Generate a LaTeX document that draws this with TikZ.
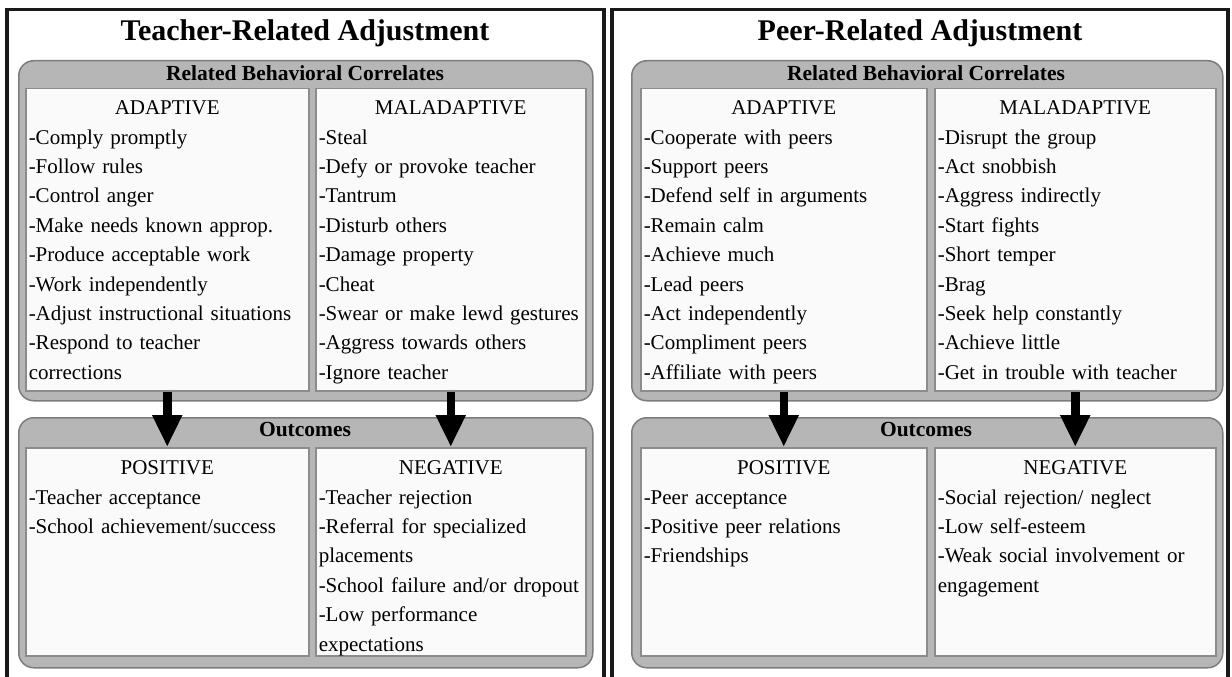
\documentclass[tikz,border=0pt]{standalone}
\usepackage{fontspec}
\setmainfont{Liberation Serif}
\usetikzlibrary{arrows.meta}

\definecolor{panelgray}{HTML}{B6B6B6}
\definecolor{panelline}{HTML}{7C7C7C}
\definecolor{boxline}{HTML}{8C8C8C}
\definecolor{boxfill}{HTML}{FAFAFA}

\newcommand{\boxhead}[1]{\makebox[\linewidth]{#1}}

\tikzset{
  panelframe/.style={line width=3.5pt, draw=black!90},
  paneltitle/.style={font=\fontsize{30}{36}\selectfont\bfseries, inner sep=0pt},
  grayhead/.style={font=\fontsize{21.5}{26}\selectfont\bfseries, inner sep=0pt},
  graybox/.style={draw=panelline, fill=panelgray, line width=1.5pt, rounded corners=15pt,
    inner sep=0pt, anchor=north west},
  listbox/.style={draw=boxline, fill=boxfill, line width=1.5pt, inner xsep=3pt, inner ysep=5pt,
    anchor=north west, align=left, font=\fontsize{21}{29.4}\selectfont},
  bigarrow/.style={line width=8.5pt, -{Triangle[width=28pt,length=32pt]}}
}

\begin{document}
\begin{tikzpicture}[x=1pt,y=-1pt]
\clip (0,0) rectangle (1232,677);

% outer frames
\draw[panelframe] (7,9.5) rectangle (604,700);
\draw[panelframe] (612,9.5) rectangle (1228,700);

%% teacher side
\node[paneltitle] (ttitle) at (305,33) {Teacher-Related Adjustment};
\node[graybox, minimum width=574pt, minimum height=340pt] (tcorr) at (18,60) {};
\node[grayhead] (tcorrhead) at (305,73) {Related Behavioral Correlates};
\node[graybox, minimum width=574pt, minimum height=250pt] (tout) at (18,417) {};
\node[grayhead] (touthead) at (305,430) {Outcomes};

\node[listbox, text width=277pt, text height=21pt, text depth=271pt] (tadapt) at (25,88)
  {\boxhead{ADAPTIVE}\\ -Comply promptly\\ -Follow rules\\ -Control anger\\
   -Make needs known approp.\\ -Produce acceptable work\\ -Work independently\\
   -Adjust instructional situations\\ -Respond to teacher\\ corrections};
\node[listbox, text width=264pt, text height=21pt, text depth=271pt] (tmal) at (315,88)
  {\boxhead{MALADAPTIVE}\\ -Steal\\ -Defy or provoke teacher\\ -Tantrum\\ -Disturb others\\
   -Damage property\\ -Cheat\\ -Swear or make lewd gestures\\ -Aggress towards others\\
   -Ignore teacher};
\node[listbox, text width=277pt, text height=22pt, text depth=176pt] (tpos) at (25,447)
  {\boxhead{POSITIVE}\\ -Teacher acceptance\\ -School achievement/success};
\node[listbox, text width=264pt, text height=22pt, text depth=176pt] (tneg) at (315,447)
  {\boxhead{NEGATIVE}\\ -Teacher rejection\\ -Referral for specialized\\ placements\\
   -School failure and/or dropout\\ -Low performance\\ expectations};

\draw[bigarrow] (tadapt) -- (tpos);
\draw[bigarrow] (tmal) -- (tneg);

%% peer side
\node[paneltitle] (ptitle) at (920,33) {Peer-Related Adjustment};
\node[graybox, minimum width=591pt, minimum height=340pt] (pcorr) at (631,60) {};
\node[grayhead] (pcorrhead) at (926,73) {Related Behavioral Correlates};
\node[graybox, minimum width=591pt, minimum height=250pt] (pout) at (631,417) {};
\node[grayhead] (pouthead) at (926,430) {Outcomes};

\node[listbox, text width=280pt, text height=21pt, text depth=271pt] (padapt) at (640,88)
  {\boxhead{ADAPTIVE}\\ -Cooperate with peers\\ -Support peers\\ -Defend self in arguments\\
   -Remain calm\\ -Achieve much\\ -Lead peers\\ -Act independently\\ -Compliment peers\\
   -Affiliate with peers};
\node[listbox, text width=275pt, text height=21pt, text depth=271pt] (pmal) at (934,88)
  {\boxhead{MALADAPTIVE}\\ -Disrupt the group\\ -Act snobbish\\ -Aggress indirectly\\
   -Start fights\\ -Short temper\\ -Brag\\ -Seek help constantly\\ -Achieve little\\
   -Get in trouble with teacher};
\node[listbox, text width=280pt, text height=22pt, text depth=176pt] (ppos) at (640,447)
  {\boxhead{POSITIVE}\\ -Peer acceptance\\ -Positive peer relations\\ -Friendships};
\node[listbox, text width=275pt, text height=22pt, text depth=176pt] (pneg) at (934,447)
  {\boxhead{NEGATIVE}\\ -Social rejection/ neglect\\ -Low self-esteem\\
   -Weak social involvement or\\ engagement};

\draw[bigarrow] (padapt) -- (ppos);
\draw[bigarrow] (pmal) -- (pneg);

\end{tikzpicture}
\end{document}
